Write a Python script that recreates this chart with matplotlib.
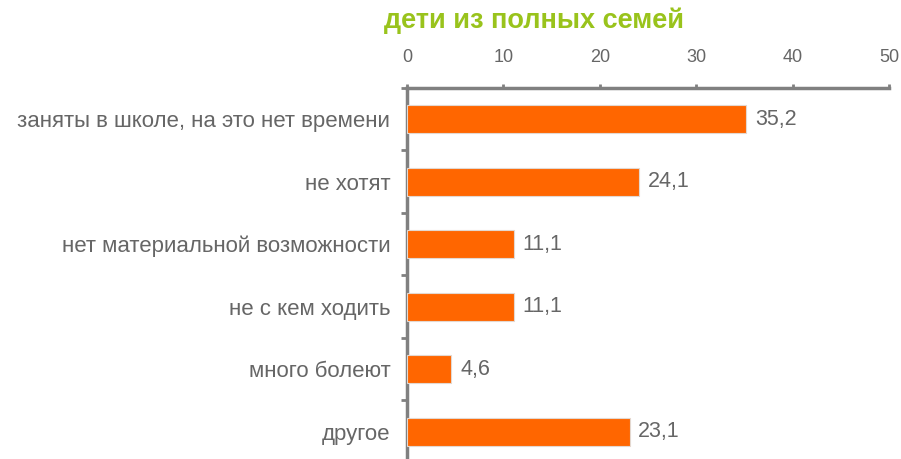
import matplotlib
matplotlib.use("Agg")
import matplotlib.pyplot as plt
import numpy as np

plt.rcParams['font.family'] = ['Liberation Sans', 'DejaVu Sans']

title = "дети из полных семей"
categories = [
    "заняты в школе, на это нет времени",
    "не хотят",
    "нет материальной возможности",
    "не с кем ходить",
    "много болеют",
    "другое",
]
values = [35.2, 24.1, 11.1, 11.1, 4.6, 23.1]
x_ticks = [0, 10, 20, 30, 40, 50]

axis_gray = "#808080"
text_gray = "#666666"
bar_orange = "#FF6600"
title_green = "#99C31C"

fig = plt.figure(figsize=(9.01, 4.59), dpi=100)
ax = fig.add_axes([407 / 901, 1 - 463 / 459, (889 - 407) / 901, 375 / 459])

y = np.arange(len(categories))
ax.barh(y, values, height=0.45, color=bar_orange, edgecolor="#e3d8d0", linewidth=0.8, zorder=3)

ax.set_xlim(0, 50)
ax.set_ylim(len(categories) - 0.5, -0.5)

ax.xaxis.tick_top()
ax.set_xticks(x_ticks)
ax.set_xticklabels([str(t) for t in x_ticks])
ax.tick_params(axis="x", direction="out", length=3, width=2, color=axis_gray,
               labelsize=13, labelcolor=text_gray, pad=13)

ax.set_yticks(y)
ax.set_yticklabels(categories)
ax.set_yticks(np.arange(len(categories) + 1) - 0.5, minor=True)
ax.tick_params(axis="y", which="major", length=0, labelsize=16, labelcolor=text_gray, pad=12)
ax.tick_params(axis="y", which="minor", length=4, width=2, color=axis_gray)

for side in ["right", "bottom"]:
    ax.spines[side].set_visible(False)
for side in ["left", "top"]:
    ax.spines[side].set_color(axis_gray)
    ax.spines[side].set_linewidth(2.5)

for yi, v in zip(y, values):
    ax.text(v + 0.9, yi, f"{v:.1f}".replace(".", ","), va="center", ha="left",
            fontsize=15.5, color=text_gray)

fig.text(534 / 901, 1 - 21 / 459, title, ha="center", va="center",
         fontsize=19.5, fontweight="bold", color=title_green)

fig.savefig("out.png", dpi=100)
